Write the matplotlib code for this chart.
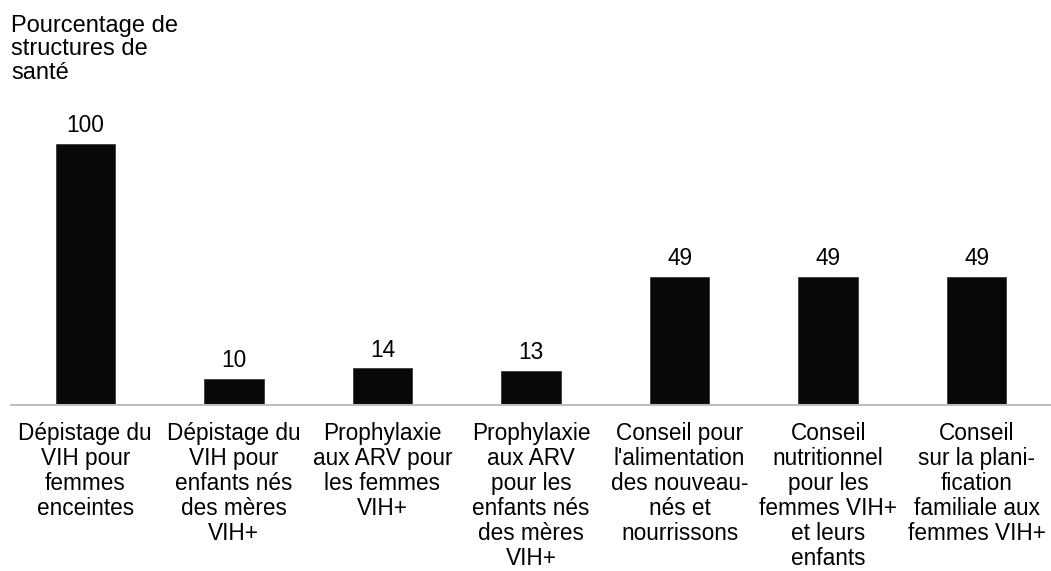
import numpy as np
import matplotlib.pyplot as plt

plt.rcParams['font.family'] = ['Liberation Sans', 'DejaVu Sans']

# Données
categories = [
    "Dépistage du\nVIH pour\nfemmes\nenceintes",
    "Dépistage du\nVIH pour\nenfants nés\ndes mères\nVIH+",
    "Prophylaxie\naux ARV pour\nles femmes\nVIH+",
    "Prophylaxie\naux ARV\npour les\nenfants nés\ndes mères\nVIH+",
    "Conseil pour\nl'alimentation\ndes nouveau-\nnés et\nnourrissons",
    "Conseil\nnutritionnel\npour les\nfemmes VIH+\net leurs\nenfants",
    "Conseil\nsur la plani-\nfication\nfamiliale aux\nfemmes VIH+",
]
valeurs = [100, 10, 14, 13, 49, 49, 49]
titre_y = "Pourcentage de\nstructures de\nsanté"

W, H = 1051, 571
fig = plt.figure(figsize=(W / 100, H / 100), dpi=100)
ax = fig.add_axes([11 / W, (H - 405) / H, 1040 / W, (405 - 144) / H])

x = np.arange(len(valeurs))
ax.bar(x, valeurs, width=0.4, color="#080808", edgecolor="#3a3a3a", linewidth=0.6)

for xi, v in zip(x, valeurs):
    ax.annotate(str(v), (xi, v), xytext=(0, 5), textcoords="offset points",
                ha="center", va="bottom", fontsize=16.3)

ax.set_xlim(-0.5, len(valeurs) - 0.5)
ax.set_ylim(0, 100)
ax.set_yticks([])
ax.set_xticks(x)
ax.set_xticklabels(categories, fontsize=16.3, linespacing=1.12)
ax.tick_params(axis="x", length=0, pad=12)
for s in ["top", "right", "left"]:
    ax.spines[s].set_visible(False)
ax.spines["bottom"].set_color("#bfbfbf")
ax.spines["bottom"].set_linewidth(1.5)

fig.text(11 / W, 1 - 15 / H, titre_y, ha="left", va="top", fontsize=17, linespacing=1.08)

fig.savefig("out.png", dpi=100)
